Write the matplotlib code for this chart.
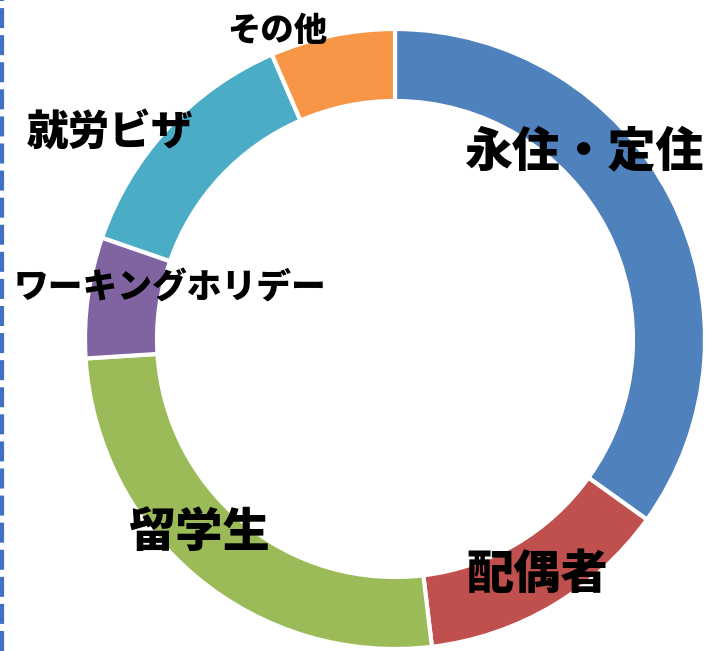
import matplotlib
matplotlib.use("Agg")
import matplotlib.pyplot as plt
from matplotlib.lines import Line2D

plt.rcParams['font.family'] = ['Noto Sans CJK JP', 'DejaVu Sans']

categories = ["永住・定住", "配偶者", "留学生", "ワーキングホリデー", "就労ビザ", "その他"]
values = [34.9, 13.2, 25.9, 6.3, 13.2, 6.5]
colors = ["#4F81BD", "#C0504D", "#9BBB59", "#8064A2", "#4BACC6", "#F79646"]
label_sizes = [34.5, 34, 34, 25, 30, 24]
# label anchor positions in pixel coords (x, y from top)
label_pos = [(584, 152), (537, 575), (199, 533), (170, 287), (110, 133), (277, 31)]

W, H = 705, 651
fig = plt.figure(figsize=(W / 100, H / 100), dpi=100)
ax = fig.add_axes([0, 0, 1, 1])

cx, cy, R = 395, H - 339, 310
ax.pie(values, colors=colors, startangle=90, counterclock=False,
       center=(cx, cy), radius=R, frame=True,
       wedgeprops=dict(width=72, edgecolor='white', linewidth=3))
ax.set_xlim(0, W)
ax.set_ylim(0, H)
ax.set_aspect('equal')
ax.axis('off')

for lab, (px, py), fs in zip(categories, label_pos, label_sizes):
    ax.text(px, H - py, lab, fontsize=fs, fontweight='heavy', color='black',
            ha='center', va='center')

# dashed border line on the left
ax.add_line(Line2D([2.2, 2.2], [0, H], color='#3F70C2', linewidth=3,
                   linestyle=(0, (4.8, 1.7))))

fig.savefig("out.png", dpi=100)
